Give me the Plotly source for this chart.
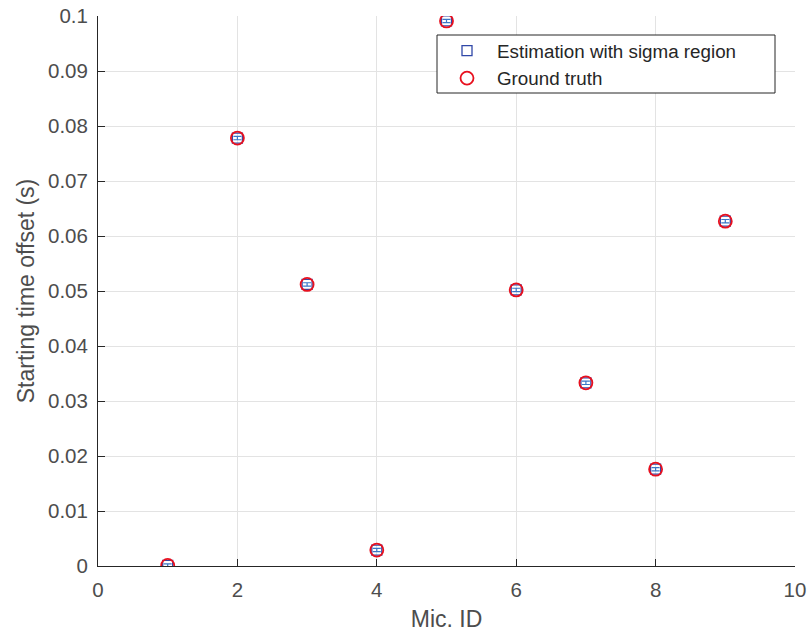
import plotly.graph_objects as go

mic_id = [1, 2, 3, 4, 5, 6, 7, 8, 9]
estimation = [0.0001, 0.0778, 0.0512, 0.0029, 0.0991, 0.0502, 0.0333, 0.0176, 0.0627]
sigma = [0.0003, 0.0003, 0.0003, 0.0003, 0.0003, 0.0003, 0.0003, 0.0003, 0.0003]
ground_truth = [0.0001, 0.0778, 0.0512, 0.0029, 0.0991, 0.0502, 0.0333, 0.0176, 0.0627]

x_ticks = [0, 2, 4, 6, 8, 10]
y_ticks = [0, 0.01, 0.02, 0.03, 0.04, 0.05, 0.06, 0.07, 0.08, 0.09, 0.1]
y_tick_text = ["0", "0.01", "0.02", "0.03", "0.04", "0.05", "0.06", "0.07", "0.08", "0.09", "0.1"]

FONT = "Liberation Sans, Arial, sans-serif"

fig = go.Figure()
fig.add_trace(go.Scatter(
    x=mic_id, y=estimation, mode="markers", name="Estimation with sigma region",
    marker=dict(symbol="square-open", size=10, color="#3048a8", line=dict(width=1.3)),
    error_y=dict(type="data", array=sigma, visible=True, color="#3a78c8", thickness=1.2, width=4),
))
fig.add_trace(go.Scatter(
    x=mic_id, y=ground_truth, mode="markers", name="Ground truth",
    marker=dict(symbol="circle-open", size=13, color="#e8101e", line=dict(width=1.8)),
))

axis_font = dict(family=FONT, size=20.5, color="#4d4d4d")
fig.update_layout(
    width=807, height=632,
    margin=dict(l=98, r=12, t=16, b=66),
    paper_bgcolor="white", plot_bgcolor="white",
    showlegend=True,
    legend=dict(
        x=(437 - 98) / 697, y=0.971, xanchor="left", yanchor="top",
        bgcolor="rgba(0,0,0,0)", borderwidth=0,
        font=dict(family=FONT, size=18.8, color="#262626"),
        itemwidth=50, tracegroupgap=0,
    ),
    shapes=[dict(
        type="rect", xref="paper", yref="paper",
        x0=(437 - 98) / 697, x1=(775 - 98) / 697,
        y0=(566 - 93) / 550, y1=(566 - 35) / 550,
        line=dict(color="#262626", width=1), fillcolor="white", layer="above",
    )],
    xaxis=dict(
        range=[0, 10], tickvals=x_ticks, showgrid=True, gridcolor="#e3e3e3", gridwidth=1,
        showline=True, linecolor="#262626", linewidth=1, ticks="inside", ticklen=7,
        tickcolor="#262626", zeroline=False, tickfont=axis_font, automargin=False,
        ticklabelstandoff=5, ticklabeloverflow="allow",
        title=dict(text="Mic. ID", font=dict(family=FONT, size=23, color="#4d4d4d"), standoff=14),
    ),
    yaxis=dict(
        range=[0, 0.1], tickvals=y_ticks, ticktext=y_tick_text, showgrid=True, gridcolor="#e3e3e3", gridwidth=1,
        showline=True, linecolor="#262626", linewidth=1, ticks="inside", ticklen=7,
        tickcolor="#262626", zeroline=False, tickfont=axis_font, automargin=False,
        ticklabelstandoff=5, ticklabeloverflow="allow",
        title=dict(text="Starting time offset (s)", font=dict(family=FONT, size=23, color="#4d4d4d"), standoff=6),
    ),
)
fig.write_html(
    "out.html",
    config={"displayModeBar": False},
    post_script="document.body.style.margin='0';document.body.style.overflow='hidden';",
)
